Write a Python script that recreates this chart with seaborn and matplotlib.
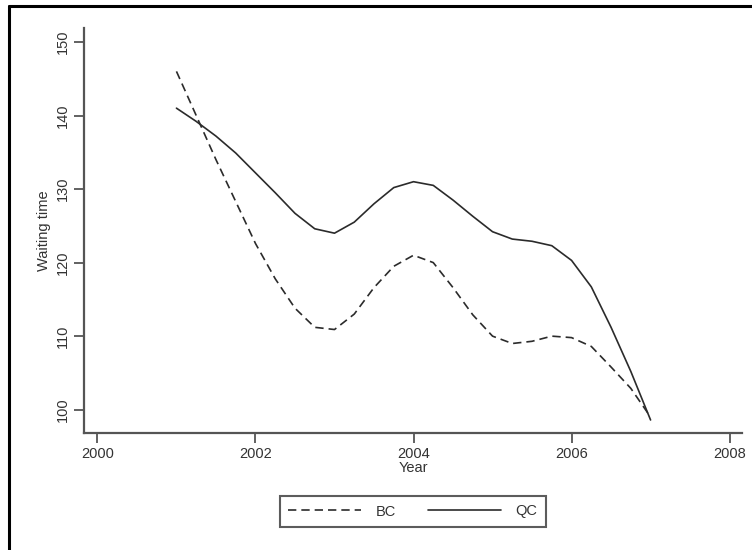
import numpy as np
import pandas as pd
import matplotlib
matplotlib.use("Agg")
import matplotlib.pyplot as plt
from matplotlib.lines import Line2D
import seaborn as sns

# Smoothed waiting times by year for the two provinces
years = [2001.0, 2001.25, 2001.5, 2001.75, 2002.0, 2002.25, 2002.5, 2002.75,
         2003.0, 2003.25, 2003.5, 2003.75, 2004.0, 2004.25, 2004.5, 2004.75,
         2005.0, 2005.25, 2005.5, 2005.75, 2006.0, 2006.25, 2006.5, 2006.75,
         2007.0]
bc = [146.0, 140.0, 134.0, 128.3, 122.6, 117.8, 113.8, 111.2,
      110.9, 113.0, 116.6, 119.5, 121.0, 120.0, 116.6, 112.9,
      110.0, 109.0, 109.3, 110.0, 109.8, 108.6, 105.8, 102.9,
      99.0]
qc = [141.0, 139.2, 137.2, 134.9, 132.2, 129.5, 126.7, 124.6,
      124.0, 125.5, 128.0, 130.2, 131.0, 130.5, 128.5, 126.3,
      124.2, 123.2, 122.9, 122.3, 120.3, 116.7, 111.2, 105.2,
      98.6]
series_names = ["BC", "QC"]
x_ticks = [2000, 2002, 2004, 2006, 2008]
y_ticks = [100, 110, 120, 130, 140, 150]

df = pd.DataFrame({
    "Year": years * 2,
    "Waiting time": bc + qc,
    "series": ["BC"] * len(years) + ["QC"] * len(years),
})

sns.set_style("ticks")
plt.rcParams["font.family"] = ["Liberation Sans", "DejaVu Sans"]

fig = plt.figure(figsize=(7.52, 5.5), dpi=100)
ax = fig.add_axes([84 / 752, 1 - 433 / 550, (742 - 84) / 752, (433 - 28) / 550])

line_color = "#2b2b2b"
sns.lineplot(data=df, x="Year", y="Waiting time", style="series",
             style_order=series_names,
             dashes={"BC": (5, 3), "QC": ""}, color=line_color,
             linewidth=1.2, ax=ax, legend=False)

ax.set_xlim(1999.83, 2008.157)
ax.set_ylim(96.83, 151.9)
ax.set_xticks(x_ticks)
ax.set_yticks(y_ticks)
ax.set_yticklabels([str(v) for v in y_ticks], rotation=90, va="center")

spine_color = "#555555"
for side in ["top", "right"]:
    ax.spines[side].set_visible(False)
for side in ["left", "bottom"]:
    ax.spines[side].set_color(spine_color)
    ax.spines[side].set_linewidth(1.6)
ax.tick_params(axis="both", direction="out", length=7, width=1.3,
               color=spine_color, labelcolor="#333333", labelsize=10.5)
ax.tick_params(axis="x", pad=3)
ax.tick_params(axis="y", pad=3)

ax.set_xlabel("Year", fontsize=10.5, color="#333333", labelpad=0)
ax.set_ylabel("Waiting time", fontsize=10.5, color="#333333", labelpad=4)

handles = [Line2D([], [], color=line_color, linewidth=1.2, dashes=(5, 3)),
           Line2D([], [], color=line_color, linewidth=1.2)]
leg = fig.legend(handles, series_names, loc="center",
                 bbox_to_anchor=(413 / 752, 1 - 511.5 / 550), ncol=2,
                 frameon=True, fancybox=False, handlelength=5.0,
                 handletextpad=1.0, columnspacing=2.2, fontsize=10.5,
                 borderpad=0.55, edgecolor="#333333")
leg.get_frame().set_linewidth(1.5)
for t in leg.get_texts():
    t.set_color("#333333")

# Outer frame of the graph region
fig.add_artist(Line2D([9 / 752, 9 / 752], [0, 1 - 6 / 550],
                      transform=fig.transFigure, color="black", linewidth=2.2))
fig.add_artist(Line2D([9 / 752, 1], [1 - 6 / 550, 1 - 6 / 550],
                      transform=fig.transFigure, color="black", linewidth=2.2))

fig.savefig("out.png", dpi=100)
